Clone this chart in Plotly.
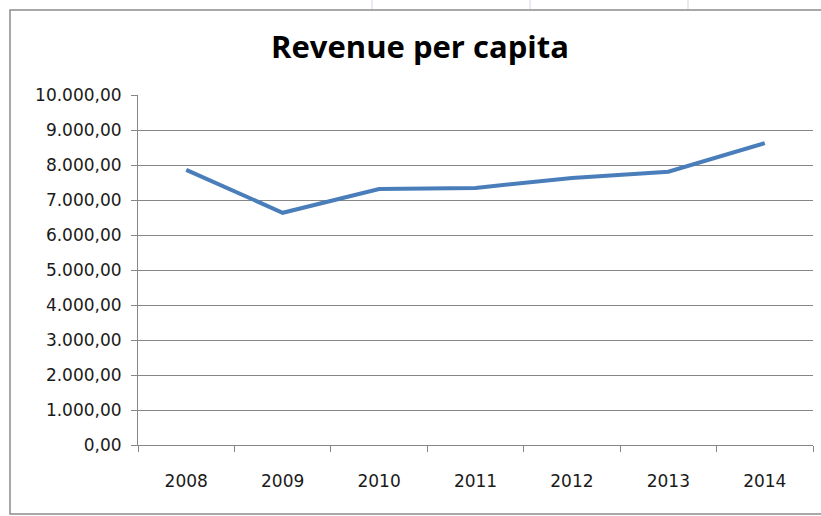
import plotly.graph_objects as go

years = ["2008", "2009", "2010", "2011", "2012", "2013", "2014"]
revenue = [7860, 6635, 7315, 7345, 7630, 7810, 8625]
title_text = "Revenue per capita"

W, H = 821, 516
L, R, T, B = 138, 8, 95, 71

fig = go.Figure()
fig.add_trace(go.Scatter(
    x=years, y=revenue, mode="lines",
    line=dict(color="#4A7EBB", width=4),
    hoverinfo="skip", showlegend=False,
))

pw = W - L - R
ph = H - T - B
def px_x(x):
    return (x - L) / pw
def px_y(y):
    return (H - B - y) / ph

shapes = [
    dict(type="rect", xref="paper", yref="paper",
         x0=px_x(10), x1=px_x(W + 5), y0=px_y(514), y1=px_y(10),
         line=dict(color="#8C8C8C", width=1.5), fillcolor="rgba(0,0,0,0)", layer="below"),
]
for xx in [372, 530, 688]:
    shapes.append(dict(type="line", xref="paper", yref="paper",
                       x0=px_x(xx), x1=px_x(xx), y0=px_y(0), y1=px_y(9),
                       line=dict(color="#D0D7E5", width=1)))

fig.update_layout(
    width=W, height=H,
    margin=dict(l=L, r=R, t=T, b=B),
    paper_bgcolor="white", plot_bgcolor="white",
    separators=",.",
    title=dict(text="<b>" + title_text + "</b>", x=420 / W, xanchor="center",
               y=1 - 47 / H, yanchor="middle",
               font=dict(family="Open Sans", size=31, color="black")),
    xaxis=dict(type="category", range=[-0.5, len(years) - 0.5],
               showgrid=False, showline=True, linecolor="#868686", linewidth=1,
               ticks="outside", tickson="boundaries", ticklen=6, tickcolor="#868686",
               tickfont=dict(family="DejaVu Sans", size=17, color="#1a1a1a"),
               ticklabelstandoff=21, fixedrange=True),
    yaxis=dict(range=[0, 10000], dtick=1000, tickformat=",.2f",
               showgrid=True, gridcolor="#868686", gridwidth=1,
               showline=True, linecolor="#868686", linewidth=1,
               ticks="outside", ticklen=6, tickcolor="#868686",
               tickfont=dict(family="DejaVu Sans", size=17, color="#1a1a1a"),
               ticklabelstandoff=6, zeroline=False, fixedrange=True),
    shapes=shapes,
)

fig.write_html("out.html", config={"displayModeBar": False},
               post_script="document.body.style.margin='0';document.body.style.overflow='hidden';")
